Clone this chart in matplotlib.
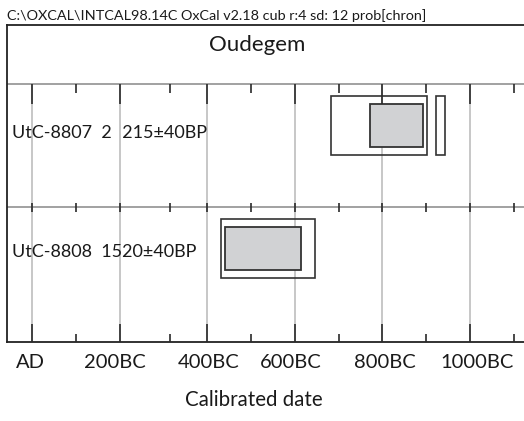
import matplotlib
matplotlib.use("Agg")
import matplotlib.pyplot as plt
from matplotlib.patches import Rectangle

# ---------------- data ----------------
header = "C:\\OXCAL\\INTCAL98.14C OxCal v2.18 cub r:4 sd: 12 prob[chron]"
title = "Oudegem"
lab_ids = ["UtC-8807", "UtC-8808"]
bp_ages = ["2\u2007215", "1520"]
bp_errors = [40, 40]
# calibrated ranges (years BC as plotted on the axis)
outer_ranges = [[(682, 903), (923, 944)], [(432, 646)]]   # 95.4% ranges
inner_ranges = [[(772, 894)], [(441, 615)]]               # 68.2% ranges
major_ticks = [0, 200, 400, 600, 800, 1000]
major_labels = ["AD", "200BC", "400BC", "600BC", "800BC", "1000BC"]
minor_ticks = [100, 315, 500, 700, 900, 1100]
xlabel = "Calibrated date"

# ---------------- layout ----------------
W, H = 524, 421
plt.rcParams['font.family'] = ['Lato', 'DejaVu Sans']
fig = plt.figure(figsize=(W / 100, H / 100), dpi=100)

px_per_year = 0.43779
x0_px = 32.06
left_px, top_px, bottom_px = 7.3, 24.5, 341.5
xmin = (left_px - x0_px) / px_per_year
xmax = 1150
width_px = (xmax - xmin) * px_per_year
ax = fig.add_axes([left_px / W, (H - bottom_px) / H, width_px / W, (bottom_px - top_px) / H])
ax.set_xlim(xmin, xmax)
ax.set_ylim(bottom_px, top_px)   # y in pixel-like units, downward
ax.set_xticks([])
ax.set_yticks([])
for s in ["top", "left", "bottom"]:
    ax.spines[s].set_color("#222222")
    ax.spines[s].set_linewidth(1.3)
ax.spines["right"].set_visible(False)

row_tops = [84, 207]
dark = "#2a2a2a"
txt = "#1a1a1a"

# horizontal separators
for y in row_tops:
    ax.axhline(y, color="#9a9a9a", lw=1.3, zorder=1)

# vertical gridlines at major ticks
ax.vlines(major_ticks, row_tops[0], bottom_px, colors="#b8b8b8", lw=1.1, zorder=0.5)

# ticks
ax.vlines(major_ticks, row_tops[0], row_tops[0] + 20, colors=dark, lw=1.2, zorder=4)
ax.vlines(minor_ticks, row_tops[0], row_tops[0] + 8.5, colors=dark, lw=1.2, zorder=4)
ax.vlines(major_ticks + minor_ticks, row_tops[1] - 4.5, row_tops[1] + 4.5, colors=dark, lw=1.2, zorder=4)
ax.vlines(major_ticks, bottom_px - 18, bottom_px, colors=dark, lw=1.2, zorder=4)
ax.vlines(minor_ticks, bottom_px - 8, bottom_px, colors=dark, lw=1.2, zorder=4)

# boxes
outer_off = (12.3, 71.2)
inner_off = (20.3, 62.5)
for i, top in enumerate(row_tops):
    for (a, b) in outer_ranges[i]:
        ax.add_patch(Rectangle((a, top + outer_off[0]), b - a, outer_off[1] - outer_off[0],
                               facecolor="none", edgecolor="#333333", lw=1.2, zorder=2))
    for (a, b) in inner_ranges[i]:
        ax.add_patch(Rectangle((a, top + inner_off[0]), b - a, inner_off[1] - inner_off[0],
                               facecolor="#d1d2d4", edgecolor="#333333", lw=1.3, zorder=3))
    ax.text(xmin + 4.7 / px_per_year, top + (49 if i == 0 else 45),
            f"{lab_ids[i]}  {bp_ages[i]}\u00b1{bp_errors[i]}BP",
            ha="left", va="center", fontsize=13, color=txt, zorder=5)

# title and header
ax.text((257 - x0_px) / px_per_year, 45, title,
        ha="center", va="center", fontsize=16, color=txt)
fig.text(left_px / W, 1 - 15.5 / H, header, ha="left", va="center", fontsize=10.4, color=txt)

# tick labels (slightly offset from tick positions, as in the original) and axis label
label_dx_px = [-1.5, -5, 1, -3.5, 3, 7]
for t, lab, dx in zip(major_ticks, major_labels, label_dx_px):
    ax.text(t + dx / px_per_year, bottom_px + 21, lab, ha="center", va="center", fontsize=14.5,
            color=txt, clip_on=False)
ax.text((254 - x0_px) / px_per_year, bottom_px + 58.5, xlabel, ha="center", va="center",
        fontsize=14.8, color=txt, clip_on=False)

fig.savefig("out.png", dpi=100)
